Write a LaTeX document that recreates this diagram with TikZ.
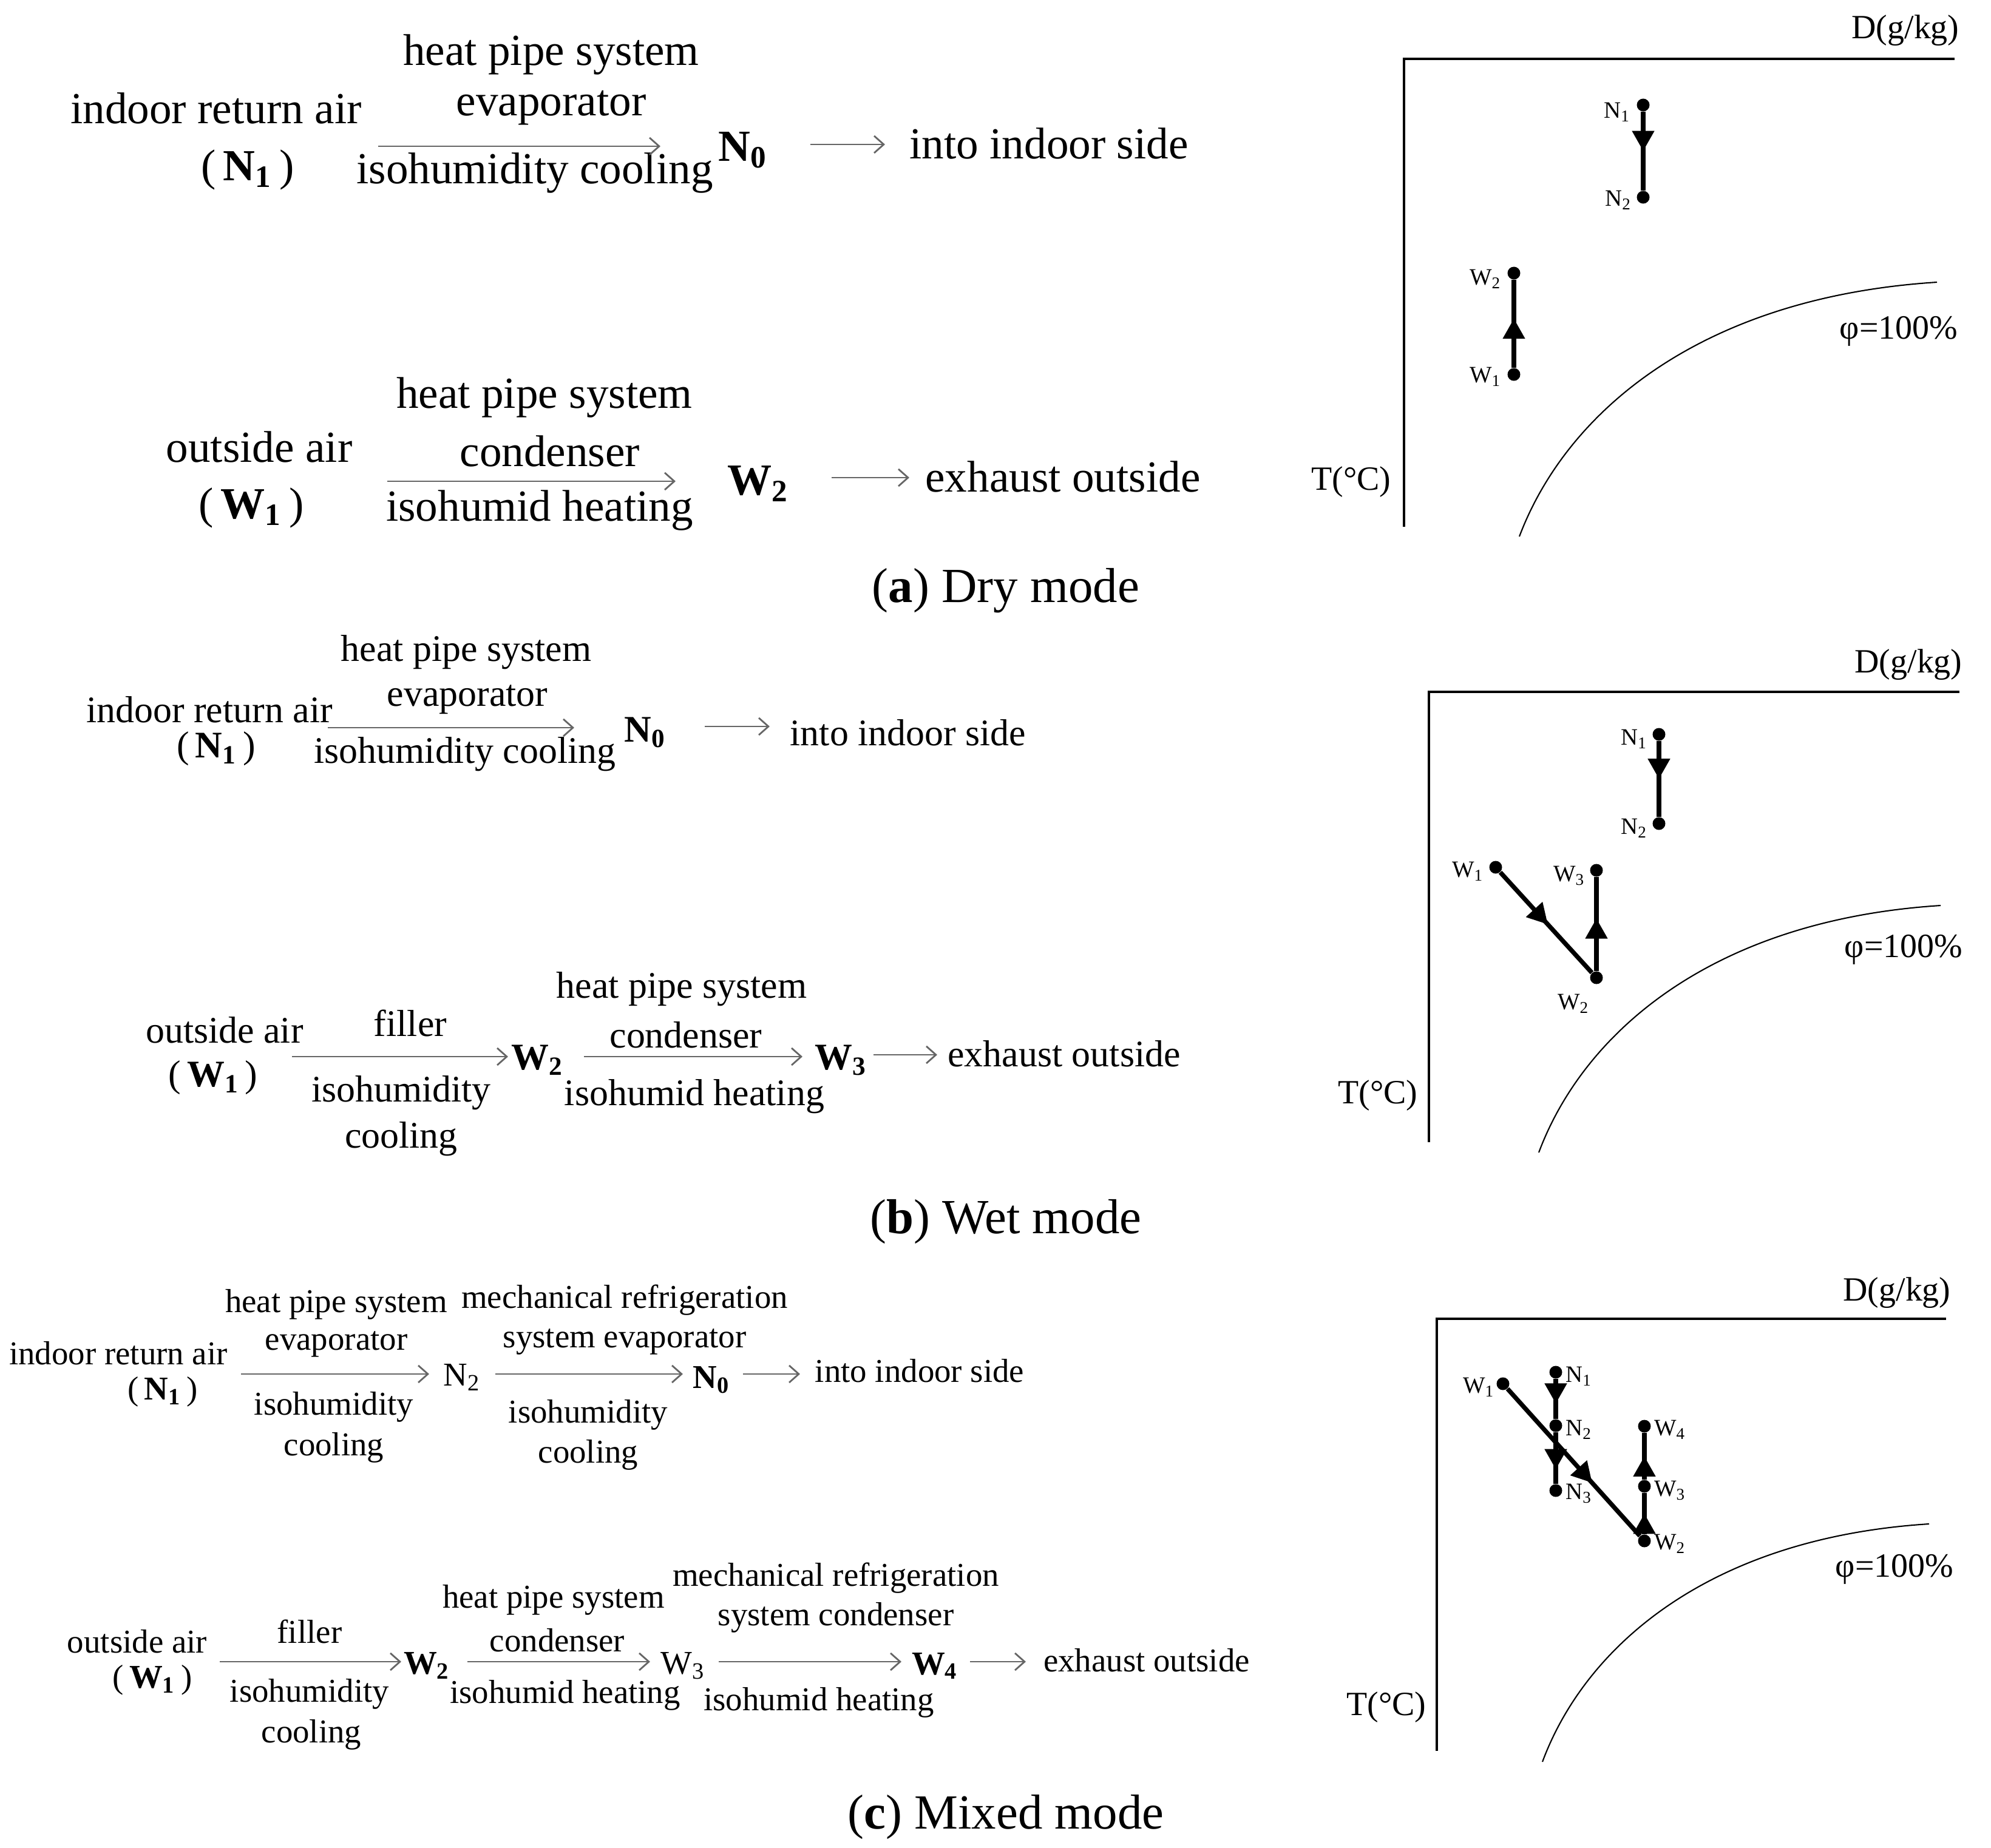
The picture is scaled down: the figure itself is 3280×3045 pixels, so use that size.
\documentclass[tikz,border=0pt]{standalone}
\usepackage{fontspec}
\setmainfont{Liberation Serif}
\usetikzlibrary{arrows.meta,decorations.markings}
\tikzset{
 fa/.style={font=\fontsize{20.8}{24}\selectfont, inner sep=0pt},
 fb/.style={font=\fontsize{17.6}{20}\selectfont, inner sep=0pt},
 fc/.style={font=\fontsize{15.6}{18}\selectfont, inner sep=0pt},
 axl/.style={font=\fontsize{15.9}{18}\selectfont, inner sep=0pt},
 ptl/.style={font=\fontsize{11}{12}\selectfont, inner sep=0pt},
 capt/.style={font=\fontsize{23}{26}\selectfont, inner sep=0pt},
 flow/.style={draw=black!60, line width=0.8pt, -{Straight Barb[length=4.5pt,width=8pt]}},
 axisline/.style={draw=black, line width=0.9pt},
 sat/.style={draw=black, line width=0.6pt},
 dot/.style={circle, fill=black, inner sep=0pt, minimum size=0.21cm},
 proc/.style={draw=black, line width=2.1pt, postaction={decorate},
   decoration={markings, mark=at position #1 with {\arrow{Triangle[length=9.5pt,width=10pt]}}}},
 proc/.default=0.5
}
\begin{document}
\begin{tikzpicture}[x=0.01cm,y=-0.01cm]
\path[use as bounding box] (0,0) rectangle (3280,3045);

% ================= (a) Dry mode =================
\node[fa] (a-hp) at (908,90) {heat pipe system};
\node[fa] (a-ira) at (356,178) {indoor return air};
\node[fa] (a-ev) at (908,178) {evaporator};
\node[fa] (a-n1) at (408,280) {(\,\textbf{N\textsubscript{1}}\,)};
\node[fa] (a-ic) at (881,285) {isohumidity cooling};
\node[fa] (a-n0) at (1224,247) {\textbf{N\textsubscript{0}}};
\node[fa] (a-in) at (1728,236) {into indoor side};
\coordinate (a-f1s) at (623,241); \coordinate (a-f1e) at (1088,241);
\coordinate (a-f2s) at (1335,238); \coordinate (a-f2e) at (1458,238);
\draw[flow] (a-f1s) -- (a-f1e);
\draw[flow] (a-f2s) -- (a-f2e);

\node[fa] (a-hp2) at (897,655) {heat pipe system};
\node[fa] (a-oa) at (427,736) {outside air};
\node[fa] (a-cd) at (906,743) {condenser};
\node[fa] (a-w1) at (414,837) {(\,\textbf{W\textsubscript{1}}\,)};
\node[fa] (a-ih) at (889,841) {isohumid heating};
\node[fa] (a-w2) at (1249,797) {\textbf{W\textsubscript{2}}};
\node[fa] (a-ex) at (1751,785) {exhaust outside};
\coordinate (a-f3s) at (638,793); \coordinate (a-f3e) at (1113,793);
\coordinate (a-f4s) at (1370,787); \coordinate (a-f4e) at (1498,787);
\draw[flow] (a-f3s) -- (a-f3e);
\draw[flow] (a-f4s) -- (a-f4e);

\node[capt] (a-cap) at (1657,973) {(\textbf{a}) Dry mode};

% chart (a)
\draw[axisline] (2313,868) -- (2313,97) -- (3220,97);
\node[axl] (a-D) at (3139,50) {D(g/kg)};
\node[axl] (a-T) at (2226,794) {T(°C)};
\node[axl] (a-phi) at (3128,546) {φ=100\%};
\draw[sat] (2503,884) .. controls (2580,680) and (2800,490) .. (3191,465);
\node[dot] (a-pN1) at (2707,173) {};
\node[dot] (a-pN2) at (2707,325) {};
\node[dot] (a-pW2) at (2494,450) {};
\node[dot] (a-pW1) at (2494,617) {};
\draw[proc=0.5] (a-pN1) -- (a-pN2);
\draw[proc=0.56] (a-pW1) -- (a-pW2);
\node[ptl] (a-lN1) at (2664,185) {N\textsubscript{1}};
\node[ptl] (a-lN2) at (2666,330) {N\textsubscript{2}};
\node[ptl] (a-lW2) at (2447,460) {W\textsubscript{2}};
\node[ptl] (a-lW1) at (2447,621) {W\textsubscript{1}};

% ================= (b) Wet mode =================
\node[fb] (b-hp) at (768,1075) {heat pipe system};
\node[fb] (b-ira) at (345,1169) {indoor return air};
\node[fb] (b-ev) at (770,1153) {evaporator};
\node[fb] (b-n1) at (356,1234) {(\,\textbf{N\textsubscript{1}}\,)};
\node[fb] (b-ic) at (766,1243) {isohumidity cooling};
\node[fb] (b-n0) at (1063,1207) {\textbf{N\textsubscript{0}}};
\node[fb] (b-in) at (1496,1207) {into indoor side};
\coordinate (b-f1s) at (540,1199); \coordinate (b-f1e) at (946,1199);
\coordinate (b-f2s) at (1161,1197); \coordinate (b-f2e) at (1268,1197);
\draw[flow] (b-f1s) -- (b-f1e);
\draw[flow] (b-f2s) -- (b-f2e);

\node[fb] (b-oa) at (370,1697) {outside air};
\node[fb] (b-fi) at (676,1686) {filler};
\node[fb] (b-w1) at (351,1776) {(\,\textbf{W\textsubscript{1}}\,)};
\node[fb] (b-w2) at (885,1747) {\textbf{W\textsubscript{2}}};
\node[fb] (b-hp2) at (1123,1630) {heat pipe system};
\node[fb] (b-cd) at (1130,1705) {condenser};
\node[fb] (b-w3) at (1385,1747) {\textbf{W\textsubscript{3}}};
\node[fb] (b-ex) at (1753,1736) {exhaust outside};
\node[fb] (b-ih1) at (661,1801) {isohumidity};
\node[fb] (b-co1) at (661,1877) {cooling};
\node[fb] (b-ih) at (1144,1807) {isohumid heating};
\coordinate (b-f3s) at (481,1741); \coordinate (b-f3e) at (837,1741);
\coordinate (b-f4s) at (962,1741); \coordinate (b-f4e) at (1322,1741);
\coordinate (b-f5s) at (1439,1738); \coordinate (b-f5e) at (1544,1738);
\draw[flow] (b-f3s) -- (b-f3e);
\draw[flow] (b-f4s) -- (b-f4e);
\draw[flow] (b-f5s) -- (b-f5e);

\node[capt] (b-cap) at (1657,2013) {(\textbf{b}) Wet mode};

% chart (b)
\draw[axisline] (2354,1882) -- (2354,1140) -- (3228,1140);
\node[axl] (b-D) at (3144,1095) {D(g/kg)};
\node[axl] (b-T) at (2270,1805) {T(°C)};
\node[axl] (b-phi) at (3136,1565) {φ=100\%};
\draw[sat] (2535,1899) .. controls (2609,1701) and (2821,1516) .. (3197,1492);
\node[dot] (b-pN1) at (2733,1210) {};
\node[dot] (b-pN2) at (2733,1357) {};
\node[dot] (b-pW1) at (2464,1429) {};
\node[dot] (b-pW2) at (2630,1611) {};
\node[dot] (b-pW3) at (2630,1434) {};
\draw[proc=0.5] (b-pN1) -- (b-pN2);
\draw[proc=0.52] (b-pW1) -- (b-pW2);
\draw[proc=0.56] (b-pW2) -- (b-pW3);
\node[ptl] (b-lN1) at (2692,1218) {N\textsubscript{1}};
\node[ptl] (b-lN2) at (2692,1365) {N\textsubscript{2}};
\node[ptl] (b-lW1) at (2418,1436) {W\textsubscript{1}};
\node[ptl] (b-lW3) at (2585,1443) {W\textsubscript{3}};
\node[ptl] (b-lW2) at (2592,1654) {W\textsubscript{2}};

% ================= (c) Mixed mode =================
\node[fc] (c-hp) at (554,2149) {heat pipe system};
\node[fc] (c-mr) at (1029,2142) {mechanical refrigeration};
\node[fc] (c-ira) at (195,2230) {indoor return air};
\node[fc] (c-ev) at (554,2215) {evaporator};
\node[fc] (c-sev) at (1029,2211) {system evaporator};
\node[fc] (c-n1) at (268,2293) {(\,\textbf{N\textsubscript{1}}\,)};
\node[fc] (c-n2) at (761,2270) {N\textsubscript{2}};
\node[fc] (c-n0) at (1172,2274) {\textbf{N\textsubscript{0}}};
\node[fc] (c-in) at (1515,2259) {into indoor side};
\node[fc] (c-ih1) at (550,2318) {isohumidity};
\node[fc] (c-co1) at (550,2385) {cooling};
\node[fc] (c-ih2) at (969,2331) {isohumidity};
\node[fc] (c-co2) at (969,2397) {cooling};
\coordinate (c-f1s) at (397,2264); \coordinate (c-f1e) at (707,2264);
\coordinate (c-f2s) at (816,2264); \coordinate (c-f2e) at (1125,2264);
\coordinate (c-f3s) at (1224,2264); \coordinate (c-f3e) at (1318,2264);
\draw[flow] (c-f1s) -- (c-f1e);
\draw[flow] (c-f2s) -- (c-f2e);
\draw[flow] (c-f3s) -- (c-f3e);

\node[fc] (c-mr2) at (1377,2600) {mechanical refrigeration};
\node[fc] (c-hp2) at (912,2636) {heat pipe system};
\node[fc] (c-scd) at (1377,2665) {system condenser};
\node[fc] (c-oa) at (226,2705) {outside air};
\node[fc] (c-fi) at (510,2688) {filler};
\node[fc] (c-cd) at (918,2703) {condenser};
\node[fc] (c-w1) at (251,2768) {(\,\textbf{W\textsubscript{1}}\,)};
\node[fc] (c-w2) at (703,2745) {\textbf{W\textsubscript{2}}};
\node[fc] (c-w3) at (1125,2745) {W\textsubscript{3}};
\node[fc] (c-w4) at (1540,2745) {\textbf{W\textsubscript{4}}};
\node[fc] (c-ex) at (1889,2736) {exhaust outside};
\node[fc] (c-ih3) at (510,2791) {isohumidity};
\node[fc] (c-co3) at (513,2858) {cooling};
\node[fc] (c-ihh1) at (931,2793) {isohumid heating};
\node[fc] (c-ihh2) at (1349,2805) {isohumid heating};
\coordinate (c-f4s) at (362,2738); \coordinate (c-f4e) at (661,2738);
\coordinate (c-f5s) at (770,2738); \coordinate (c-f5e) at (1071,2738);
\coordinate (c-f6s) at (1184,2738); \coordinate (c-f6e) at (1485,2738);
\coordinate (c-f7s) at (1598,2738); \coordinate (c-f7e) at (1690,2738);
\draw[flow] (c-f4s) -- (c-f4e);
\draw[flow] (c-f5s) -- (c-f5e);
\draw[flow] (c-f6s) -- (c-f6e);
\draw[flow] (c-f7s) -- (c-f7e);

\node[capt] (c-cap) at (1657,2994) {(\textbf{c}) Mixed mode};

% chart (c)
\draw[axisline] (2367,2885) -- (2367,2173) -- (3206,2173);
\node[axl] (c-D) at (3125,2130) {D(g/kg)};
\node[axl] (c-T) at (2284,2813) {T(°C)};
\node[axl] (c-phi) at (3121,2586) {φ=100\%};
\draw[sat] (2541,2903) .. controls (2612,2712) and (2816,2534) .. (3178,2511);
\node[dot] (c-pW1) at (2476,2280) {};
\node[dot] (c-pN1) at (2563,2261) {};
\node[dot] (c-pN2) at (2563,2349) {};
\node[dot] (c-pN3) at (2563,2456) {};
\node[dot] (c-pW4) at (2709,2350) {};
\node[dot] (c-pW3) at (2709,2449) {};
\node[dot] (c-pW2) at (2709,2539) {};
\draw[proc=0.62] (c-pN1) -- (c-pN2);
\draw[proc=0.72] (c-pN2) -- (c-pN3);
\draw[proc=0.5] (c-pW2) -- (c-pW3);
\draw[proc=0.5] (c-pW3) -- (c-pW4);
\draw[proc=0.64] (c-pW1) -- (c-pW2);
\node[ptl] (c-lW1) at (2436,2286) {W\textsubscript{1}};
\node[ptl] (c-lN1) at (2601,2268) {N\textsubscript{1}};
\node[ptl] (c-lN2) at (2601,2356) {N\textsubscript{2}};
\node[ptl] (c-lN3) at (2601,2461) {N\textsubscript{3}};
\node[ptl] (c-lW4) at (2751,2356) {W\textsubscript{4}};
\node[ptl] (c-lW3) at (2751,2456) {W\textsubscript{3}};
\node[ptl] (c-lW2) at (2751,2544) {W\textsubscript{2}};
\end{tikzpicture}
\end{document}
